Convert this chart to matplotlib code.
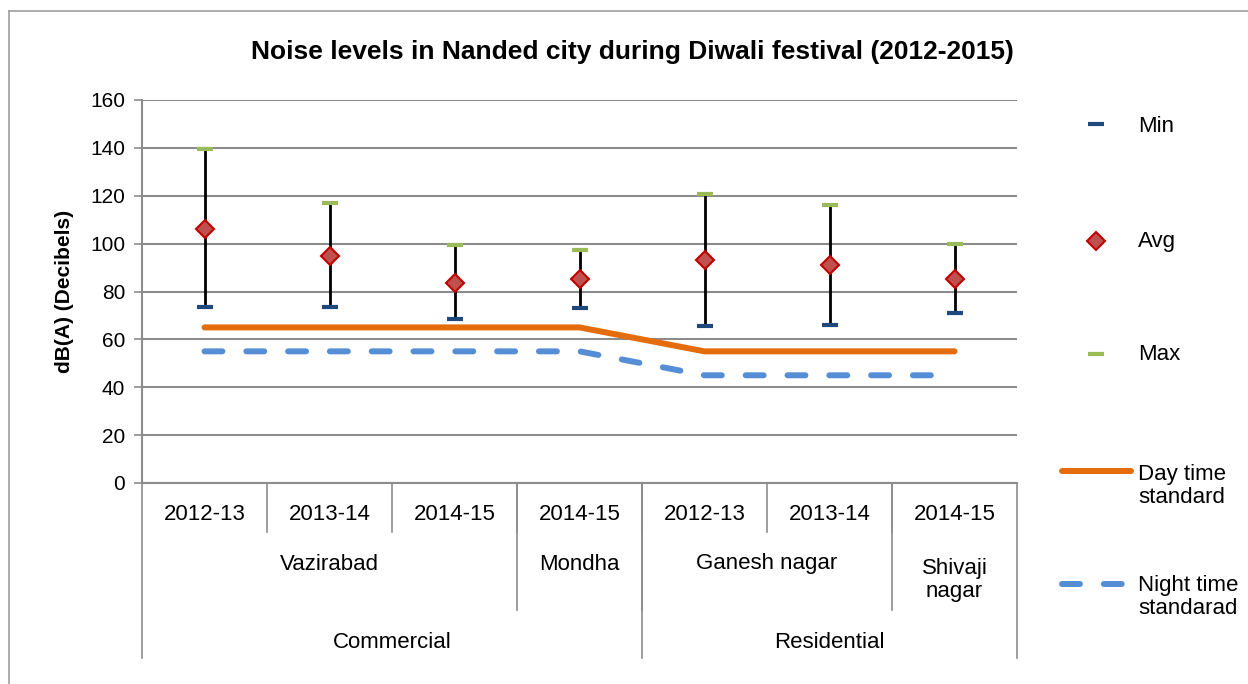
import matplotlib.pyplot as plt
from matplotlib.lines import Line2D
from matplotlib.transforms import blended_transform_factory

plt.rcParams['font.family'] = ['Liberation Sans', 'DejaVu Sans']

years = ["2012-13", "2013-14", "2014-15", "2014-15", "2012-13", "2013-14", "2014-15"]
sites = ["Vazirabad", "Mondha", "Ganesh nagar", "Shivaji\nnagar"]
site_span = [3, 1, 2, 1]
zones = ["Commercial", "Residential"]
zone_span = [4, 3]

min_db = [73.5, 73.5, 68.5, 73.0, 65.5, 66.0, 71.0]
avg_db = [106.3, 95.0, 83.7, 85.1, 93.1, 91.0, 85.4]
max_db = [139.5, 117.0, 99.3, 97.5, 120.6, 116.0, 99.8]
day_std = [65, 65, 65, 65, 55, 55, 55]
night_std = [55, 55, 55, 55, 45, 45, 45]

C_MIN = "#1F497D"; C_MAX = "#9BBB59"; C_AVG = "#C0504D"; C_AVG_EDGE = "#C00000"
C_DAY = "#E46C0A"; C_NIGHT = "#558ED5"; C_GRID = "#8C8C8C"
NIGHT_DASH = (3.0, 4.0)

W, H = 1248, 684
fig = plt.figure(figsize=(W / 100, H / 100), dpi=100)
ax = fig.add_axes([142 / W, 1 - 483 / H, 875 / W, 383 / H])

n = len(years)
x = list(range(n))

# high-low lines
for i in x:
    ax.plot([i, i], [min_db[i], max_db[i]], color="black", lw=2, zorder=3)

ax.plot(x, day_std, color=C_DAY, lw=4.3, solid_capstyle="round", zorder=2)
ax.plot(x, night_std, color=C_NIGHT, lw=4.3, dashes=NIGHT_DASH, dash_capstyle="round", zorder=2)

ax.plot(x, min_db, ls="none", marker="_", ms=11, mew=3, color=C_MIN, zorder=4)
ax.plot(x, max_db, ls="none", marker="_", ms=11, mew=3, color=C_MAX, zorder=4)
ax.plot(x, avg_db, ls="none", marker="D", ms=9.5, mfc=C_AVG, mec=C_AVG_EDGE, mew=1.5, zorder=5)

ax.set_xlim(-0.5, n - 0.5)
ax.set_ylim(0, 160)
ax.set_yticks(range(0, 161, 20))
ax.yaxis.grid(True, color=C_GRID, lw=1.5)
ax.set_axisbelow(True)
ax.set_xticks([])
ax.tick_params(axis="y", labelsize=15, length=6, width=1.2, color=C_GRID, pad=6)
for s in ["top", "right"]:
    ax.spines[s].set_visible(False)
for s in ["left", "bottom"]:
    ax.spines[s].set_color(C_GRID)
    ax.spines[s].set_linewidth(1.5)

ax.set_ylabel("dB(A) (Decibels)", fontsize=15, fontweight="bold", labelpad=12)
fig.text(632 / W, 1 - 52 / H, "Noise levels in Nanded city during Diwali festival (2012-2015)",
         ha="center", va="center", fontsize=19, fontweight="bold")

# multi-level category axis
tr = blended_transform_factory(ax.transData, fig.transFigure)
fy = lambda py: 1 - py / H
fx = lambda px: px / W

def vline(xv, y0, y1):
    fig.add_artist(Line2D([xv, xv], [fy(y0), fy(y1)], transform=tr, color=C_GRID, lw=1.2))

for i, lab in enumerate(years):
    fig.text(i, fy(515), lab, transform=tr, ha="center", va="center", fontsize=16)

pos = -0.5
for lab, sp in zip(sites, site_span):
    yy = fy(580) if "\n" in lab else fy(564)
    fig.text(pos + sp / 2, yy, lab, transform=tr, ha="center", va="center",
             fontsize=16, linespacing=1.15)
    pos += sp

pos = -0.5
for lab, sp in zip(zones, zone_span):
    fig.text(pos + sp / 2, fy(643), lab, transform=tr, ha="center", va="center", fontsize=16)
    pos += sp

vline(-0.5, 483, 658)
vline(n - 0.5, 483, 658)
for b in range(1, n):
    vline(b - 0.5, 483, 532)
pos = -0.5
for sp in site_span[:-1]:
    pos += sp
    vline(pos, 483, 610)
vline(zone_span[0] - 0.5, 483, 658)

# legend, drawn by hand on the right
def leg_text(py, txt):
    fig.text(fx(1138), fy(py), txt, ha="left", va="center", fontsize=16, linespacing=1.1)

fig.add_artist(Line2D([fx(1096)], [fy(124)], ls="none", marker="_", ms=11, mew=3, color=C_MIN))
leg_text(126, "Min")
fig.add_artist(Line2D([fx(1096)], [fy(241)], ls="none", marker="D", ms=9.5, mfc=C_AVG,
                      mec=C_AVG_EDGE, mew=1.5))
leg_text(241, "Avg")
fig.add_artist(Line2D([fx(1096)], [fy(354)], ls="none", marker="_", ms=11, mew=3, color=C_MAX))
leg_text(355, "Max")
fig.add_artist(Line2D([fx(1062), fx(1131)], [fy(471), fy(471)], color=C_DAY, lw=4.3,
                      solid_capstyle="round"))
leg_text(486, "Day time\nstandard")
fig.add_artist(Line2D([fx(1062), fx(1131)], [fy(584), fy(584)], color=C_NIGHT, lw=4.3,
                      dashes=NIGHT_DASH, dash_capstyle="round"))
leg_text(597, "Night time\nstandarad")

# chart border (top and left edges visible)
fig.add_artist(Line2D([fx(8.5), fx(8.5)], [fy(11), fy(684)], color="#A0A0A0", lw=1.2))
fig.add_artist(Line2D([fx(8.5), fx(1248)], [fy(11), fy(11)], color="#A0A0A0", lw=1.2))

fig.savefig("out.png", dpi=100)
